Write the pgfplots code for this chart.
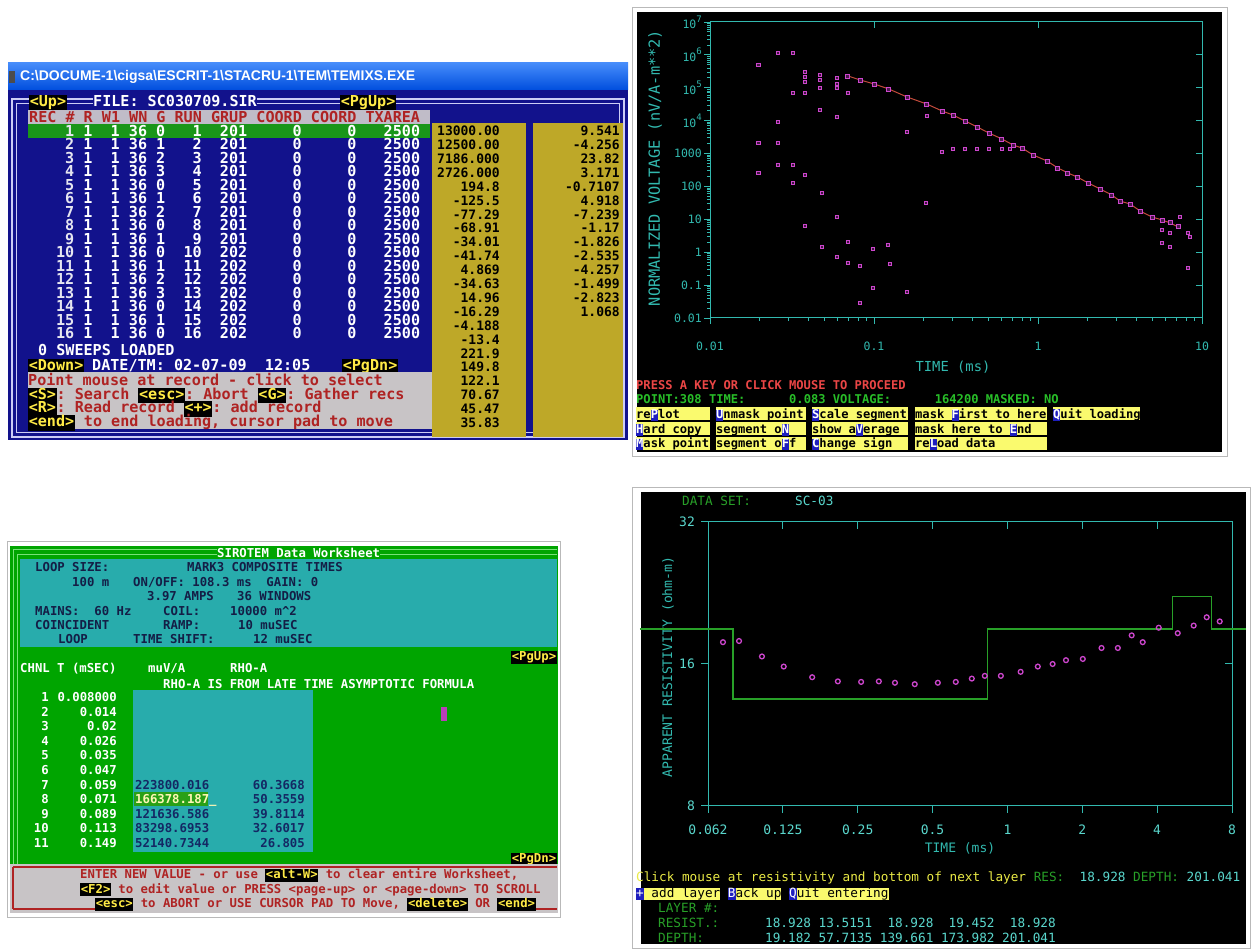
\documentclass[border=0pt]{standalone}
\usepackage{pgfplots}
\pgfplotsset{compat=1.18}
\usepackage{fontspec}
\setmainfont{DejaVu Sans}
\newfontfamily\dos{DejaVu Sans Mono}
\newfontfamily\win{Liberation Sans}
\frenchspacing

\definecolor{tlblue}{RGB}{18,18,140}
\definecolor{frameln}{RGB}{205,205,245}
\definecolor{titleA}{RGB}{0,78,222}
\definecolor{titleB}{RGB}{70,140,250}
\definecolor{hdrgray}{RGB}{192,188,200}
\definecolor{dosred}{RGB}{175,35,35}
\definecolor{rowgreen}{RGB}{25,150,25}
\definecolor{olive}{RGB}{190,168,40}
\definecolor{keyyel}{RGB}{255,235,70}
\definecolor{dosgray}{RGB}{200,196,198}
\definecolor{axcyan}{RGB}{50,185,175}
\definecolor{ptmag}{RGB}{205,70,205}
\definecolor{linered}{RGB}{195,75,60}
\definecolor{scrgreen}{RGB}{40,190,40}
\definecolor{pressred}{RGB}{235,70,70}
\definecolor{btnyel}{RGB}{250,250,110}
\definecolor{hlblue}{RGB}{30,30,190}
\definecolor{wsgreen}{RGB}{0,165,0}
\definecolor{wscyan}{RGB}{40,172,172}
\definecolor{wslight}{RGB}{120,225,120}
\definecolor{wsdark}{RGB}{20,30,70}
\definecolor{wsnavy}{RGB}{20,40,100}
\definecolor{brgreen}{RGB}{40,160,40}
\definecolor{bryel}{RGB}{235,235,70}
\definecolor{brcyan}{RGB}{90,215,205}
\definecolor{panelgray}{RGB}{185,185,185}
\definecolor{rowtext}{RGB}{230,230,240}

\newcommand\fs[1]{\fontsize{#1}{#1}\selectfont}
\newcommand\key[1]{{\fboxsep=0.6pt\colorbox{black}{\textcolor{keyyel}{\vphantom{Ag}#1}}}}
\newcommand\hl[1]{{\fboxsep=0pt\colorbox{hlblue}{\textcolor{white}{\vphantom{Ag}#1}}}}
\newcommand\btn[1]{{\fboxsep=0pt\colorbox{btnyel}{\textcolor{black}{\vphantom{Ag}#1}}}}

\begin{document}
\begin{tikzpicture}[
  tl/.style={anchor=base west, inner sep=0pt, font=\dos\bfseries\fs{15.1}, yshift=-5.5pt},
  tlr/.style={tl, anchor=base east},
  ca/.style={anchor=base east, inner sep=0pt, font=\dos\bfseries\fs{13}, yshift=-4.7pt},
  bl/.style={anchor=base west, inner sep=0pt, font=\dos\bfseries\fs{12.3}, yshift=-4.5pt},
  blr/.style={bl, anchor=base east},
  tr/.style={anchor=base west, inner sep=0pt, font=\dos\bfseries\fs{12.1}, yshift=-4.4pt},
  br/.style={anchor=base west, inner sep=0pt, font=\dos\fs{12.7}, yshift=-4.6pt}]
\path[use as bounding box, fill=white] (0,0) rectangle (1254pt,-949pt);

\begin{scope}[x=1pt,y=-1pt]
% ---------------- top left: record list ----------------
\shade[top color=titleB, bottom color=titleA] (8,63) rectangle (628,90);
\fill[black!70] (9,71) rectangle (15,83);
\node[anchor=west, inner sep=0pt, text=white, font=\win\bfseries\fs{14}] at (20,77)
  {C:\textbackslash DOCUME-1\textbackslash cigsa\textbackslash ESCRIT-1\textbackslash STACRU-1\textbackslash TEM\textbackslash TEMIXS.EXE};
\fill[tlblue] (8,90) rectangle (628,440);
\draw[frameln, line width=1.1pt] (12,99) rectangle (624,437);
\draw[frameln, line width=1.1pt] (16.5,103.5) rectangle (619.5,432.5);
\node[tl] at (29,101.5) {\key{<Up>}};
\node[tl, text=white, fill=tlblue] at (93,101.5) {FILE:~SC030709.SIR};
\node[tl] at (340,101.5) {\key{<PgUp>}};
\fill[hdrgray] (28,110) rectangle (430,124);
\node[tl, text=dosred] at (29,117) {REC~\#~R~W1~WN~G~RUN~GRUP~COORD~COORD~TXAREA};
\fill[rowgreen] (28,124.5) rectangle (430,138);
\foreach \k/\g/\rn/\gp in {1/0/1/201, 2/1/2/201, 3/2/3/201, 4/3/4/201, 5/0/5/201,
    6/1/6/201, 7/2/7/201, 8/0/8/201, 9/1/9/201, 10/0/10/202, 11/1/11/202,
    12/2/12/202, 13/3/13/202, 14/0/14/202, 15/1/15/202, 16/0/16/202} {
  \pgfmathsetmacro\yy{131+13.5*(\k-1)}
  \node[tlr, text=rowtext] at (74.5,\yy) {\k};
  \node[tlr, text=white] at (92.7,\yy) {1};
  \node[tlr, text=white] at (120,\yy) {1};
  \node[tlr, text=white] at (147.3,\yy) {36};
  \node[tlr, text=white] at (165.5,\yy) {\g};
  \node[tlr, text=white] at (201.9,\yy) {\rn};
  \node[tlr, text=white] at (247.4,\yy) {\gp};
  \node[tlr, text=white] at (302,\yy) {0};
  \node[tlr, text=white] at (356.6,\yy) {0};
  \node[tlr, text=white] at (420.3,\yy) {2500};
}
\node[tl, text=white] at (38,350) {0~SWEEPS~LOADED};
\node[tl] at (28,365) {\key{<Down>}};
\node[tl, text=white] at (92,365) {DATE/TM:~02-07-09~~12:05};
\node[tl] at (342,365) {\key{<PgDn>}};
\fill[dosgray] (28,372) rectangle (432,429);
\node[tl, text=dosred] at (28,380) {Point~mouse~at~record~-~click~to~select};
\node[tl, text=dosred] at (28,394) {\key{<S>}:~Search~\key{<esc>}:~Abort~\key{<G>}:~Gather~recs};
\node[tl, text=dosred] at (28,407.5) {\key{<R>}:~Read~record~\key{<+>}:~add~record};
\node[tl, text=dosred] at (28,421.5) {\key{<end>}~to~end~loading,~cursor~pad~to~move};
\fill[olive] (432,123) rectangle (526,437);
\fill[olive] (533,123) rectangle (623,437);
\foreach \v [count=\i] in {13000.00, 12500.00, 7186.000, 2726.000, 194.8, -125.5, -77.29,
    -68.91, -34.01, -41.74, 4.869, -34.63, 14.96, -16.29, -4.188, -13.4, 221.9, 149.8,
    122.1, 70.67, 45.47, 35.83}
  \node[ca] at (500,{131+13.9*(\i-1)}) {\v};
\foreach \v [count=\i] in {9.541, -4.256, 23.82, 3.171, -0.7107, 4.918, -7.239, -1.17,
    -1.826, -2.535, -4.257, -1.499, -2.823, 1.068}
  \node[ca] at (620,{131+13.9*(\i-1)}) {\v};

% ---------------- top right: decay plot panel ----------------
\draw[panelgray, line width=1pt] (632.5,7.5) rectangle (1227,457);
\fill[black] (637,12) rectangle (1222,452);
\node[rotate=90, text=axcyan, font=\dos\fs{15.3}, inner sep=0pt] at (655,168) {NORMALIZED VOLTAGE (nV/A-m**2)};
\node[text=axcyan, font=\dos\fs{13.8}, inner sep=0pt] at (953,367) {TIME (ms)};
\node[tr, text=pressred] at (636,385) {PRESS~A~KEY~OR~CLICK~MOUSE~TO~PROCEED};
\node[tr, text=scrgreen] at (636,399) {POINT:308~TIME:~~~~~~0.083~VOLTAGE:~~~~~~164200~MASKED:~NO};
\foreach \xa/\xb/\yc in {636/710/414, 716/806/414, 812/908/414, 915/1047/414, 1053/1140/414,
    636/710/428.7, 716/806/428.7, 812/908/428.7, 915/1047/428.7,
    636/710/443.4, 716/806/443.4, 812/908/443.4, 915/1047/443.4}
  \fill[btnyel] (\xa,\yc-6.5) rectangle (\xb,\yc+6.5);
\node[tr] at (636,414) {re\hl{P}lot};
\node[tr] at (716,414) {\hl{U}nmask~point};
\node[tr] at (812,414) {\hl{S}cale~segment};
\node[tr] at (915,414) {mask~\hl{F}irst~to~here};
\node[tr] at (1053,414) {\hl{Q}uit~loading};
\node[tr] at (636,428.7) {\hl{H}ard~copy};
\node[tr] at (716,428.7) {segment~o\hl{N}};
\node[tr] at (812,428.7) {show~a\hl{V}erage};
\node[tr] at (915,428.7) {mask~here~to~\hl{E}nd};
\node[tr] at (636,443.4) {\hl{M}ask~point};
\node[tr] at (716,443.4) {segment~o\hl{F}f};
\node[tr] at (812,443.4) {\hl{C}hange~sign};
\node[tr] at (915,443.4) {re\hl{L}oad~data};

% ---------------- bottom left: worksheet ----------------
\draw[panelgray, line width=1pt] (7.5,541.5) rectangle (560.5,917);
\fill[wsgreen] (10,546) rectangle (558,864);
\fill[wscyan] (20,559) rectangle (557,647);
\draw[wslight, line width=1pt] (13,550)--(557,550) (17.5,554.5)--(557,554.5);
\draw[wslight, line width=1pt] (13,550)--(13,864) (17.5,554.5)--(17.5,864);
\node[bl, text=white, fill=wsgreen] at (217,553) {SIROTEM~Data~Worksheet};
\node[bl, text=wsdark] at (35,567) {LOOP~SIZE:};
\node[bl, text=wsdark] at (187,567) {MARK3~COMPOSITE~TIMES};
\node[bl, text=wsdark] at (72,582) {100~m};
\node[bl, text=wsdark] at (133,582) {ON/OFF:~108.3~ms~~GAIN:~0};
\node[bl, text=wsdark] at (147,596) {3.97~AMPS};
\node[bl, text=wsdark] at (237,596) {36~WINDOWS};
\node[bl, text=wsdark] at (35,611) {MAINS:~~60~Hz};
\node[bl, text=wsdark] at (163,611) {COIL:};
\node[bl, text=wsdark] at (230,611) {10000~m\textasciicircum 2};
\node[bl, text=wsdark] at (35,625) {COINCIDENT};
\node[bl, text=wsdark] at (163,625) {RAMP:};
\node[bl, text=wsdark] at (238,625) {10~muSEC};
\node[bl, text=wsdark] at (58,639) {LOOP};
\node[bl, text=wsdark] at (133,639) {TIME~SHIFT:};
\node[bl, text=wsdark] at (253,639) {12~muSEC};
\node[blr] at (557,656) {\key{<PgUp>}};
\node[bl, text=white] at (20,668) {CHNL~T~(mSEC)};
\node[bl, text=white] at (148,668) {muV/A};
\node[bl, text=white] at (230,668) {RHO-A};
\node[bl, text=white] at (163,684) {RHO-A~IS~FROM~LATE~TIME~ASYMPTOTIC~FORMULA};
\fill[wscyan] (133,690) rectangle (313,852);
\fill[ptmag!90!black] (441,707) rectangle (447,721);
\foreach \c/\t in {1/0.008000, 2/0.014, 3/0.02, 4/0.026, 5/0.035, 6/0.047, 7/0.059,
    8/0.071, 9/0.089, 10/0.113, 11/0.149} {
  \pgfmathsetmacro\yy{697+14.6*(\c-1)}
  \node[blr, text=white] at (49,\yy) {\c};
  \node[blr, text=white] at (117,\yy) {\t};
}
\fill[rowgreen!90!lime] (134,{697+14.6*7-7}) rectangle (208,{697+14.6*7+7});
\foreach \c/\m/\r in {7/223800.016/60.3668, 8/166378.187/50.3559, 9/121636.586/39.8114,
    10/83298.6953/32.6017, 11/52140.7344/26.805} {
  \pgfmathsetmacro\yy{697+14.6*(\c-1)}
  \ifnum\c=8
    \node[bl, text=keyyel!40!white] at (135,\yy) {\m\_};
  \else
    \node[bl, text=wsnavy] at (135,\yy) {\m};
  \fi
  \node[blr, text=wsnavy] at (305,\yy) {\r};
}
\node[blr] at (557,858) {\key{<PgDn>}};
\fill[dosgray] (10,864) rectangle (558,913);
\draw[dosred, line width=1.2pt] (13,867)--(557,867) (13,867)--(13,909) (13,909)--(557,909);
\node[bl, text=dosred] at (80,874) {ENTER~NEW~VALUE~-~or~use~\key{<alt-W>}~to~clear~entire~Worksheet,};
\node[bl, text=dosred] at (80,888.5) {\key{<F2>}~to~edit~value~or~PRESS~<page-up>~or~<page-down>~TO~SCROLL};
\node[bl, text=dosred, fill=dosgray] at (95,903) {\key{<esc>}~to~ABORT~or~USE~CURSOR~PAD~TO~Move,~\key{<delete>}~OR~\key{<end>}};

% ---------------- bottom right: resistivity panel ----------------
\draw[panelgray, line width=1pt] (632.5,487.5) rectangle (1250,948);
\fill[black] (641,492) rectangle (1246,944);
\node[br, text=brgreen] at (682,501) {DATA~SET:};
\node[br, text=brcyan] at (795,501) {SC-03};
\node[rotate=90, text=axcyan, font=\dos\fs{13.1}, inner sep=0pt] at (668,667) {APPARENT RESISTIVITY (ohm-m)};
\node[text=axcyan, font=\dos\fs{13}, inner sep=0pt] at (960,848) {TIME (ms)};
\node[br] at (636,877) {\textcolor{bryel}{Click~mouse~at~resistivity~and~bottom~of~next~layer}~\textcolor{brgreen}{RES:}~~\textcolor{brcyan}{18.928}~\textcolor{brgreen}{DEPTH:}~\textcolor{brcyan}{201.041}};
\node[br] at (636,893) {\hl{+}\btn{~add~layer}~\hl{B}\btn{ack~up}~\hl{Q}\btn{uit~entering}};
\node[br, text=brgreen] at (658,908) {LAYER~\#:};
\node[br, text=brgreen] at (658,923) {RESIST.:};
\node[br, text=brcyan] at (765,923) {18.928~13.5151~~18.928~~19.452~~18.928};
\node[br, text=brgreen] at (658,938) {DEPTH:};
\node[br, text=brcyan] at (765,938) {19.182~57.7135~139.661~173.982~201.041};
\end{scope}

% ---- decay curve axes ----
\begin{axis}[at={(710pt,-318pt)}, anchor=south west, scale only axis,
  width=492pt, height=296pt,
  xmode=log, ymode=log, xmin=0.01, xmax=10, ymin=0.01, ymax=1e7,
  axis line style={axcyan, line width=1pt},
  tick style={axcyan, line width=0.8pt},
  major tick length=6pt, minor tick length=3pt,
  tick align=outside, xtick pos=bottom, ytick pos=left,
  xtick={0.01,0.1,1,10}, xticklabels={0.01,0.1,1,10},
  ytick={0.01,0.1,1,10,100,1000,1e4,1e5,1e6,1e7},
  yticklabels={0.01,0.1,1,10,100,1000,
    10\raisebox{0.55em}{\fs{9}4},10\raisebox{0.55em}{\fs{9}5},
    10\raisebox{0.55em}{\fs{9}6},10\raisebox{0.55em}{\fs{9}7}},
  tick label style={text=axcyan, font=\dos\fs{11.5}},
  xticklabel style={anchor=center, yshift=-22pt},
  yticklabel style={anchor=east, inner sep=0pt, xshift=-2pt},
]
\addplot[only marks, mark=square*, mark size=1.6pt,
  mark options={draw=ptmag, fill=ptmag!30!black, line width=0.7pt}]
  coordinates {
  (0.0197,4.9e5) (0.026,1.14e6) (0.032,1.14e6) (0.038,3.0e5) (0.038,2.1e5)
  (0.038,1.5e5) (0.032,6.95e4) (0.038,6.95e4) (0.047,2.45e5) (0.047,1.73e5)
  (0.047,9.9e4) (0.047,2.1e4) (0.0594,1.99e5) (0.0594,1.31e5) (0.0594,9.9e4)
  (0.0594,1.29e4) (0.0693,6.95e4) (0.026,9.1e3) (0.0197,2.1e3) (0.026,2.1e3)
  (0.0197,257) (0.026,450) (0.032,450) (0.038,224) (0.032,128) (0.0482,63)
  (0.0594,11.8) (0.038,6.3) (0.159,4.5e3) (0.207,31.5) (0.26,1.12e3)
  (0.303,1.38e3) (0.359,1.38e3) (0.425,1.38e3) (0.502,1.38e3) (0.602,1.38e3)
  (0.674,1.38e3) (0.21,1.39e4) (0.0482,1.45) (0.0693,2.06) (0.0986,1.26)
  (0.1216,1.67) (0.0594,0.72) (0.0693,0.47) (0.0822,0.38) (0.125,0.44)
  (0.0986,0.082) (0.159,0.062) (0.0822,0.029) (5.7,1.92) (6.38,1.45)
  (8.2,0.33) (7.35,11.8) (8.45,2.9) (5.7,4.8) (6.38,3.9) (8.2,3.9)
  };
\addplot[linered, line width=1pt, mark=square*, mark size=2pt,
  mark options={draw=ptmag, fill=ptmag!35!black, line width=0.8pt}]
  coordinates {
  (0.0693,2.29e5) (0.0822,1.73e5) (0.1,1.31e5) (0.123,9.2e4) (0.159,5.25e4)
  (0.21,3.2e4) (0.26,1.97e4) (0.303,1.49e4) (0.359,9.8e3) (0.425,6.45e3)
  (0.502,4.23e3) (0.602,2.78e3) (0.705,1.82e3) (0.798,1.48e3) (0.933,906)
  (1.135,596) (1.32,365) (1.52,257) (1.73,195) (2.02,128) (2.39,84)
  (2.82,55) (3.16,36) (3.64,29.4) (4.19,18) (4.95,11.8) (5.7,9.6)
  (6.38,7.8) (7.14,5.9)
  };
\end{axis}
\begin{axis}[at={(710pt,-318pt)}, anchor=south west, scale only axis,
  width=492pt, height=296pt,
  xmode=log, ymode=log, xmin=0.01, xmax=10, ymin=0.01, ymax=1e7,
  axis line style={draw=none}, tick style={axcyan, line width=0.8pt},
  major tick length=6pt, minor tick length=0pt, tick align=inside,
  xtick pos=top, ytick pos=right,
  xtick={0.1,1}, ytick={0.1,1,10,100,1000,1e4,1e5,1e6},
  xticklabels={}, yticklabels={}]
\end{axis}

% ---- apparent resistivity axes ----
\begin{axis}[at={(708pt,-806pt)}, anchor=south west, scale only axis,
  width=524pt, height=284pt, clip=false,
  xmode=log, log basis x=2, ymode=log, log basis y=2,
  xmin=0.0625, xmax=8, ymin=8, ymax=32,
  axis line style={axcyan, line width=1pt},
  tick style={axcyan, line width=1pt},
  major tick length=7pt, minor tick length=0pt,
  tick align=outside, xtick pos=bottom, ytick pos=left,
  xtick={0.0625,0.125,0.25,0.5,1,2,4,8},
  xticklabels={0.062,0.125,0.25,0.5,1,2,4,8},
  ytick={8,16,32}, yticklabels={8,16,32},
  tick label style={text=brcyan, font=\dos\fs{13}},
  xticklabel style={anchor=center, yshift=-17pt},
  yticklabel style={anchor=east, inner sep=0pt, xshift=-6pt},
]
\addplot[brgreen, line width=1.2pt] coordinates {
  (0.0333,18.98) (0.0788,18.98) (0.0788,13.49) (0.834,13.49) (0.834,18.98)
  (4.62,18.98) (4.62,22.2) (6.63,22.2) (6.63,18.98) (9.08,18.98)
  };
\addplot[only marks, mark=o, mark size=2.4pt,
  mark options={draw=ptmag, line width=1.3pt}] coordinates {
  (0.0718,17.8) (0.0833,17.9) (0.103,16.6) (0.126,15.8) (0.164,15.0)
  (0.208,14.7) (0.258,14.66) (0.304,14.7) (0.353,14.6) (0.424,14.5)
  (0.525,14.6) (0.62,14.66) (0.719,14.9) (0.811,15.1) (0.941,15.1)
  (1.13,15.4) (1.325,15.8) (1.52,16.0) (1.72,16.3) (2.01,16.4)
  (2.39,17.3) (2.78,17.3) (3.16,18.4) (3.5,17.8) (4.06,19.1)
  (4.84,18.6) (5.61,19.3) (6.33,20.1) (7.14,19.7)
  };
\end{axis}
\begin{axis}[at={(708pt,-806pt)}, anchor=south west, scale only axis,
  width=524pt, height=284pt,
  xmode=log, log basis x=2, ymode=log, log basis y=2,
  xmin=0.0625, xmax=8, ymin=8, ymax=32,
  axis line style={draw=none}, tick style={axcyan, line width=1pt},
  major tick length=7pt, minor tick length=0pt, tick align=inside,
  xtick pos=top, ytick pos=right,
  xtick={0.125,0.25,0.5,1,2,4}, ytick={16},
  xticklabels={}, yticklabels={}]
\end{axis}
\end{tikzpicture}
\end{document}
